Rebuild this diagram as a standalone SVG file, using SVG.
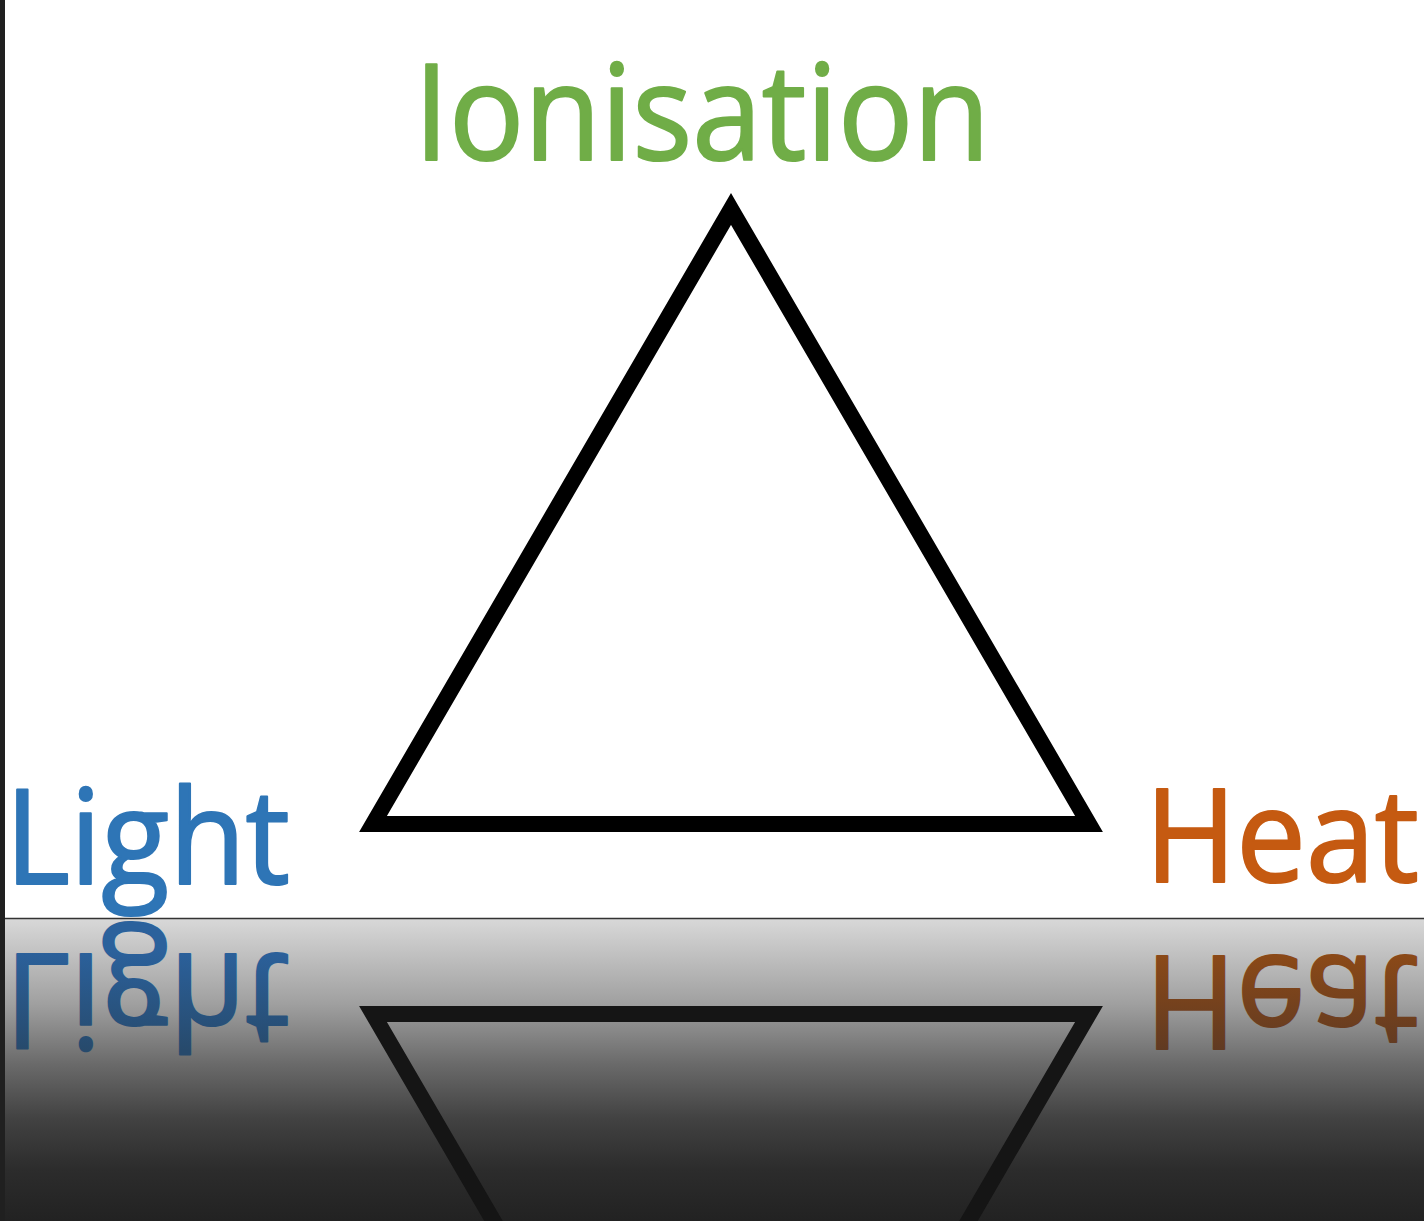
<svg xmlns="http://www.w3.org/2000/svg" width="1424" height="1221" viewBox="0 0 1424 1221">
<style>
.lbl{font-family:"Open Sans","Noto Sans","Liberation Sans",sans-serif;font-weight:400;stroke-width:2.2;stroke-linejoin:round}
.tri{fill:none;stroke:#000;stroke-width:16;stroke-linejoin:miter}
</style>
<defs>
<linearGradient id="floor" x1="0" y1="919" x2="0" y2="1221" gradientUnits="userSpaceOnUse">
<stop offset="0" stop-color="#d8d8d8"/>
<stop offset="0.28" stop-color="#a0a0a0"/>
<stop offset="0.48" stop-color="#6a6a6a"/>
<stop offset="0.66" stop-color="#424242"/>
<stop offset="0.83" stop-color="#2c2c2c"/>
<stop offset="1" stop-color="#222"/>
</linearGradient>
<linearGradient id="rblue" x1="0" y1="888" x2="0" y2="788" gradientUnits="userSpaceOnUse">
<stop offset="0" stop-color="#2b619c"/>
<stop offset="1" stop-color="#274a6c"/>
</linearGradient>
<linearGradient id="rorange" x1="0" y1="888" x2="0" y2="788" gradientUnits="userSpaceOnUse">
<stop offset="0" stop-color="#8d4a17"/>
<stop offset="1" stop-color="#603a22"/>
</linearGradient>
<clipPath id="below"><rect x="5" y="920" width="1419" height="301"/></clipPath>
</defs>
<rect x="0" y="0" width="1424" height="1221" fill="#fff"/>
<rect x="5" y="919" width="1419" height="302" fill="url(#floor)"/>
<line x1="5" y1="918.5" x2="1424" y2="918.5" stroke="#333" stroke-width="1.5"/>
<rect x="0" y="0" width="5" height="1221" fill="#202020"/>

<g id="connectors">
<polygon class="tri" points="731,209 1089,824 373,824"/>
</g>
<g id="node-ionisation">
<text class="lbl" x="414" y="160" font-size="134" fill="#70AD47" stroke="#70AD47" textLength="576" lengthAdjust="spacingAndGlyphs">Ionisation</text>
</g>
<g id="node-light">
<text class="lbl" x="5" y="884" font-size="132" fill="#2E75B6" stroke="#2E75B6" textLength="285" lengthAdjust="spacingAndGlyphs">Light</text>
</g>
<g id="node-heat">
<text class="lbl" x="1145" y="882" font-size="130" fill="#C55A11" stroke="#C55A11" textLength="274" lengthAdjust="spacingAndGlyphs">Heat</text>
</g>

<g id="reflection" clip-path="url(#below)">
<g transform="translate(0,1838) scale(1,-1)">
<polygon points="731,209 1089,824 373,824" fill="none" stroke="#151515" stroke-width="16"/>
<text class="lbl" x="5" y="884" font-size="132" fill="url(#rblue)" stroke="url(#rblue)" textLength="285" lengthAdjust="spacingAndGlyphs">Light</text>
<text class="lbl" x="1145" y="882" font-size="130" fill="url(#rorange)" stroke="url(#rorange)" textLength="274" lengthAdjust="spacingAndGlyphs">Heat</text>
</g>
</g>
</svg>
